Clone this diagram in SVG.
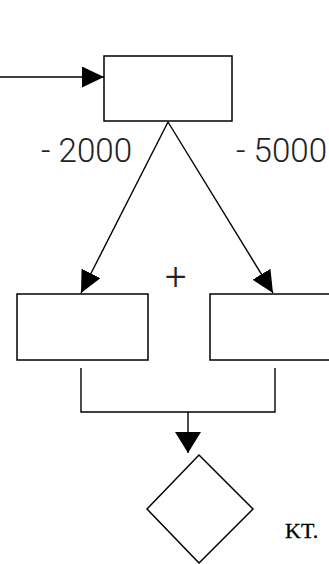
<svg xmlns="http://www.w3.org/2000/svg" width="329" height="564" viewBox="0 0 329 564">
<style>
.box{fill:#fff;stroke:#000;stroke-width:1.5}
.ln{fill:none;stroke:#000;stroke-width:1.4}
.lbl{font-family:Roboto,"Liberation Sans",Arial,sans-serif;font-weight:300;font-size:33px;fill:#222}
.kt{font-family:"Liberation Serif","Times New Roman",serif;font-size:22px;fill:#000;stroke:#000;stroke-width:0.3}
</style>
<defs>
<marker id="ah" markerUnits="userSpaceOnUse" markerWidth="22" markerHeight="21" refX="22" refY="10.5" orient="auto">
<path d="M0,0 L22,10.5 L0,21 z" fill="#000"/>
</marker>
<marker id="ahd" markerUnits="userSpaceOnUse" markerWidth="21" markerHeight="26" refX="21" refY="13" orient="auto">
<path d="M0,0 L21,13 L0,26 z" fill="#000"/>
</marker>
</defs>
<rect width="329" height="564" fill="#fff"/>
<g id="connectors">
<line class="ln" x1="0" y1="77" x2="104" y2="77" marker-end="url(#ah)"/>
<line class="ln" x1="168" y1="122" x2="81" y2="293" marker-end="url(#ah)"/>
<line class="ln" x1="168" y1="122" x2="273" y2="293" marker-end="url(#ah)"/>
<polyline class="ln" points="81,368 81,412 275,412 275,368"/>
<line class="ln" x1="188" y1="412" x2="188" y2="453" marker-end="url(#ahd)"/>
</g>
<g id="node-top"><rect class="box" x="104" y="56" width="128" height="65"/></g>
<g id="node-left"><rect class="box" x="17" y="294" width="131" height="66"/></g>
<g id="node-right"><rect class="box" x="210" y="294" width="130" height="66"/></g>
<g id="node-decision"><polygon class="box" points="199,455 253,509 199,563 147,509"/></g>
<g id="labels">
<text class="lbl" x="41" y="162" textLength="91" lengthAdjust="spacingAndGlyphs">- 2000</text>
<text class="lbl" x="236" y="162" textLength="91" lengthAdjust="spacingAndGlyphs">- 5000</text>
<text class="lbl" x="165" y="290" style="font-size:38px">+</text>
<text class="kt" x="285" y="538">KT.</text>
</g>
</svg>
